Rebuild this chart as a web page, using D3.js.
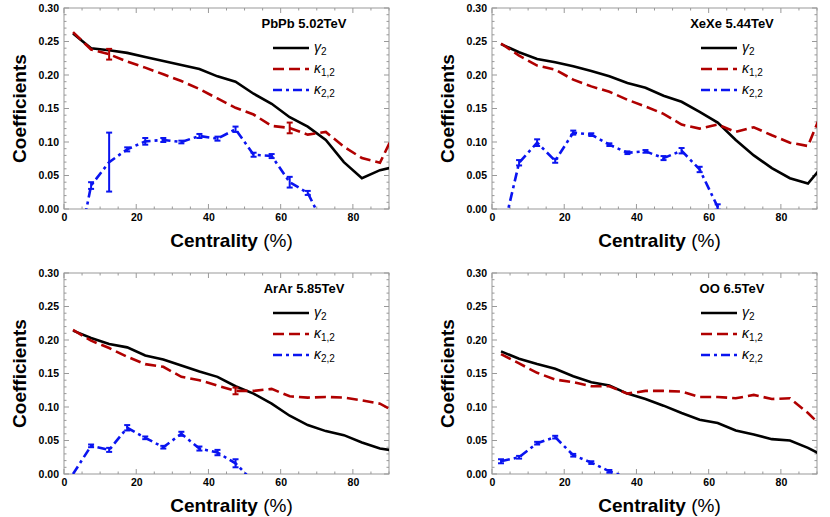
<!DOCTYPE html>
<html lang="en">
<head>
<meta charset="UTF-8">
<title>Coefficients vs centrality</title>
<style>
  body { margin: 0; background: #fff; }
  svg { font-family: 'Liberation Sans', Arial, sans-serif; }
  .tick text { font-weight: bold; font-size: 10.5px; }
</style>
<script src="https://d3js.org/d3.v7.min.js"></script>
</head>
<body>
<svg id="chart" width="830" height="517"></svg>
<script>
// centrality bin centres (last one is outside the frame, clipped)
var centrality = [2.5, 7.5, 12.5, 17.5, 22.5, 27.5, 32.5, 37.5, 42.5, 47.5, 52.5, 57.5, 62.5, 67.5, 72.5, 77.5, 82.5, 87.5, 92.5];

var pbGamma = [0.262,0.240,0.237,0.233,0.227,0.221,0.215,0.209,0.198,0.190,0.172,0.157,0.137,0.123,0.103,0.070,0.046,0.058,0.064];
var pbK12   = [0.264,0.238,0.231,0.220,0.211,0.201,0.191,0.179,0.165,0.151,0.141,0.124,0.121,0.111,0.115,0.093,0.076,0.069,0.125];
var pbK22   = [-0.10,0.035,0.070,0.089,0.101,0.103,0.100,0.109,0.105,0.119,0.081,0.079,0.040,0.024,-0.03];
var pbK22Err = [0,0.005,0.044,0.003,0.005,0.003,0.002,0.003,0.003,0.004,0.003,0.003,0.008,0.003,0];
var pbK12Err = [0,0,0.008,0,0,0,0,0,0,0,0,0,0.008,0,0,0,0,0,0];

var xeGamma = [0.246,0.234,0.224,0.219,0.213,0.206,0.198,0.188,0.181,0.169,0.160,0.145,0.129,0.103,0.080,0.061,0.046,0.038,0.070];
var xeK12   = [0.247,0.229,0.214,0.208,0.193,0.183,0.175,0.163,0.153,0.142,0.126,0.120,0.126,0.115,0.122,0.110,0.099,0.094,0.160];
var xeK22   = [-0.046,0.069,0.099,0.072,0.114,0.111,0.096,0.084,0.086,0.076,0.087,0.059,0.003,-0.05];
var xeK22Err = [0,0.004,0.005,0.003,0.003,0.002,0.002,0.002,0.002,0.003,0.004,0.004,0.004,0];

var arGamma = [0.214,0.203,0.194,0.189,0.177,0.171,0.162,0.153,0.145,0.131,0.120,0.105,0.087,0.073,0.064,0.058,0.047,0.038,0.034];
var arK12   = [0.215,0.199,0.188,0.175,0.164,0.160,0.145,0.140,0.132,0.124,0.124,0.127,0.116,0.114,0.115,0.114,0.110,0.105,0.090];
var arK22   = [0.000,0.042,0.036,0.069,0.054,0.040,0.060,0.038,0.032,0.016,-0.012];
var arK22Err = [0,0.002,0.003,0.004,0.002,0.002,0.003,0.003,0.004,0.006,0];
var arK12Err = [0,0,0,0,0,0,0,0,0,0.005,0,0,0,0,0,0,0,0,0];

var ooGamma = [0.183,0.172,0.164,0.157,0.146,0.137,0.132,0.120,0.112,0.102,0.091,0.081,0.076,0.065,0.059,0.052,0.050,0.039,0.025];
var ooK12   = [0.179,0.165,0.151,0.141,0.137,0.131,0.131,0.120,0.124,0.124,0.123,0.115,0.115,0.113,0.118,0.112,0.113,0.091,0.065];
var ooK22   = [0.019,0.025,0.046,0.055,0.028,0.017,0.004,-0.005];
var ooK22Err = [0.003,0.002,0.002,0.002,0.002,0.002,0.002,0];

var systemLabels = ["PbPb 5.02TeV", "XeXe 5.44TeV", "ArAr 5.85TeV", "OO 6.5TeV"];
var xTicks = [0, 20, 40, 60, 80];
var yTicks = [0, 0.05, 0.10, 0.15, 0.20, 0.25, 0.30];

var panels = [
  { label: systemLabels[0], g: pbGamma, k1: pbK12, k1e: pbK12Err, k2: pbK22, k2e: pbK22Err, left: 64, top: 8 },
  { label: systemLabels[1], g: xeGamma, k1: xeK12, k1e: null, k2: xeK22, k2e: xeK22Err, left: 492, top: 8 },
  { label: systemLabels[2], g: arGamma, k1: arK12, k1e: arK12Err, k2: arK22, k2e: arK22Err, left: 64, top: 273 },
  { label: systemLabels[3], g: ooGamma, k1: ooK12, k1e: null, k2: ooK22, k2e: ooK22Err, left: 492, top: 273 }
];

var W = 325, H = 201;
var svg = d3.select('#chart');
var frame = '#999';

panels.forEach(function (p, pi) {
  var g = svg.append('g').attr('transform', 'translate(' + p.left + ',' + p.top + ')');
  var x = d3.scaleLinear().domain([0, 90]).range([0, W]);
  var y = d3.scaleLinear().domain([0, 0.30]).range([H, 0]);

  g.append('clipPath').attr('id', 'clip' + pi)
    .append('rect').attr('width', W).attr('height', H);

  // frame
  g.append('rect').attr('width', W).attr('height', H)
    .attr('fill', 'none').attr('stroke', frame).attr('stroke-width', 1);

  // minor + major ticks on all sides
  var minorX = d3.range(0, 91, 5), minorY = d3.range(0, 0.301, 0.01);
  minorX.forEach(function (v) {
    var len = v % 20 === 0 ? 5 : 2.5;
    g.append('line').attr('x1', x(v)).attr('x2', x(v)).attr('y1', H).attr('y2', H - len).attr('stroke', frame);
    g.append('line').attr('x1', x(v)).attr('x2', x(v)).attr('y1', 0).attr('y2', len).attr('stroke', frame);
  });
  minorY.forEach(function (v, i) {
    var len = i % 5 === 0 ? 5 : 2.5;
    g.append('line').attr('y1', y(v)).attr('y2', y(v)).attr('x1', 0).attr('x2', len).attr('stroke', frame);
    g.append('line').attr('y1', y(v)).attr('y2', y(v)).attr('x1', W).attr('x2', W - len).attr('stroke', frame);
  });

  var xAxis = g.append('g').attr('transform', 'translate(0,' + H + ')')
    .call(d3.axisBottom(x).tickValues(xTicks).tickSize(0).tickPadding(5));
  var yAxis = g.append('g')
    .call(d3.axisLeft(y).tickValues(yTicks).tickSize(0).tickPadding(5).tickFormat(d3.format('.2f')));
  [xAxis, yAxis].forEach(function (a) { a.select('.domain').remove(); a.selectAll('text').attr('fill', '#000'); });

  // axis titles
  var xt = g.append('text').attr('x', W / 2 + 5).attr('y', H + 38).attr('text-anchor', 'middle')
    .attr('font-size', 19).attr('font-weight', 'bold');
  xt.append('tspan').text('Centrality ');
  xt.append('tspan').attr('font-weight', 'normal').text('(%)');
  g.append('text').attr('transform', 'translate(-38,' + (H / 2) + ') rotate(-90)')
    .attr('text-anchor', 'middle').attr('font-size', 19).attr('font-weight', 'bold').text('Coefficients');

  var plot = g.append('g').attr('clip-path', 'url(#clip' + pi + ')');
  var line = d3.line().x(function (d) { return x(d[0]); }).y(function (d) { return y(d[1]); });

  function series(vals, errs, color, dash) {
    var pts = vals.map(function (v, i) { return [centrality[i], v]; });
    plot.append('path').datum(pts).attr('d', line).attr('fill', 'none')
      .attr('stroke', color).attr('stroke-width', 2.6).attr('stroke-dasharray', dash);
    if (errs) {
      pts.forEach(function (d, i) {
        var e = errs[i];
        if (!e) return;
        var cx = x(d[0]);
        plot.append('line').attr('x1', cx).attr('x2', cx).attr('y1', y(d[1] - e)).attr('y2', y(d[1] + e))
          .attr('stroke', color).attr('stroke-width', 2);
        [d[1] - e, d[1] + e].forEach(function (v) {
          plot.append('line').attr('x1', cx - 3).attr('x2', cx + 3).attr('y1', y(v)).attr('y2', y(v))
            .attr('stroke', color).attr('stroke-width', 2);
        });
      });
    }
  }
  series(p.g, null, '#000', null);
  series(p.k1, p.k1e, '#b00000', '11,5');
  series(p.k2, p.k2e, '#0a14f0', '9,4,3,4');

  // legend
  var lx = 209, ly = 20;
  g.append('text').attr('x', 240).attr('y', ly).attr('text-anchor', 'middle')
    .attr('font-size', 13).attr('font-weight', 'bold').text(p.label);
  var items = [
    { c: '#000', d: null, s: 'γ', sub: '2' },
    { c: '#b00000', d: '11,5', s: 'κ', sub: '1,2' },
    { c: '#0a14f0', d: '9,4,3,4', s: 'κ', sub: '2,2' }
  ];
  items.forEach(function (it, i) {
    var yy = ly + 20 + i * 21;
    g.append('line').attr('x1', lx).attr('x2', lx + 36).attr('y1', yy).attr('y2', yy)
      .attr('stroke', it.c).attr('stroke-width', 2.6).attr('stroke-dasharray', it.d);
    var t = g.append('text').attr('x', lx + 41).attr('y', yy + 4).attr('font-size', 14)
      .attr('font-style', 'italic');
    t.append('tspan').text(it.s);
    t.append('tspan').attr('font-size', 10).attr('dy', 3).attr('font-style', 'normal').text(it.sub);
  });
});
</script>
</body>
</html>
